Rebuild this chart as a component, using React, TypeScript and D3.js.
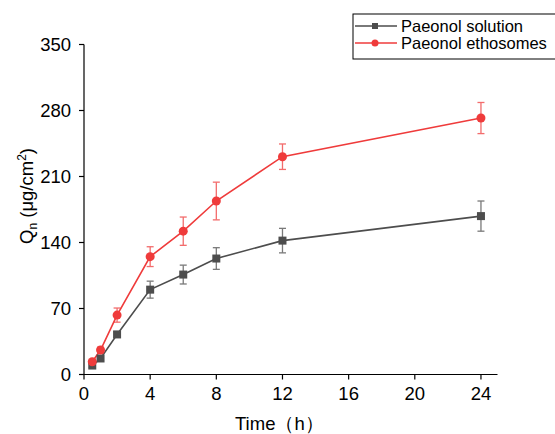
import React from "react";
import * as d3 from "d3";

const times = [0.5, 1, 2, 4, 6, 8, 12, 24];
const solutionValues = [9.5, 17, 42.5, 90, 106, 123, 142, 168];
const solutionErrors = [2, 2.5, 3, 9, 10, 11.5, 13, 16];
const ethosomeValues = [13.5, 26, 63, 125, 152, 184, 231, 272];
const ethosomeErrors = [2, 3, 7.5, 10.5, 15, 20, 13.5, 16.5];
const xTicks = [0, 4, 8, 12, 16, 20, 24];
const yTicks = [0, 70, 140, 210, 280, 350];

const GRAY = "#4d4d4d";
const RED = "#ef3b3b";
const FONT = "Liberation Sans, Arial, sans-serif";

export default function App() {
  const width = 555;
  const height = 434;
  const left = 84;
  const right = 497.5;
  const top = 44.5;
  const bottom = 374.5;

  const x = d3.scaleLinear().domain([0, 25]).range([left, right]);
  const y = d3.scaleLinear().domain([0, 350]).range([bottom, top]);

  const line = d3
    .line<number>()
    .x((_, i) => x(times[i]))
    .y(d => y(d));

  const errorBars = (vals: number[], errs: number[], color: string) =>
    vals.map((v, i) => {
      const cx = x(times[i]);
      return (
        <g key={i} stroke={color} strokeWidth={1.3} opacity={0.75}>
          <line x1={cx} x2={cx} y1={y(v + errs[i])} y2={y(v - errs[i])} />
          <line x1={cx - 3.5} x2={cx + 3.5} y1={y(v + errs[i])} y2={y(v + errs[i])} />
          <line x1={cx - 3.5} x2={cx + 3.5} y1={y(v - errs[i])} y2={y(v - errs[i])} />
        </g>
      );
    });

  return (
    <svg
      width={width}
      height={height}
      style={{ position: "absolute", left: 0, top: 0, background: "#fff" }}
      fontFamily={FONT}
    >
      {/* axes */}
      <line x1={left} x2={right} y1={bottom} y2={bottom} stroke="#000" strokeWidth={1.2} />
      <line x1={left} x2={left} y1={top} y2={bottom} stroke="#000" strokeWidth={1.2} />
      {xTicks.map(t => (
        <g key={t} transform={`translate(${x(t)},${bottom})`}>
          <line y2={5} stroke="#000" strokeWidth={1.2} />
          <text y={25} textAnchor="middle" fontSize={18.5}>
            {t}
          </text>
        </g>
      ))}
      {yTicks.map(t => (
        <g key={t} transform={`translate(${left},${y(t)})`}>
          <line x2={-5} stroke="#000" strokeWidth={1.2} />
          <text x={-13} y={6.5} textAnchor="end" fontSize={18.5}>
            {t}
          </text>
        </g>
      ))}
      <text x={235} y={430} fontSize={18.5}>
        Time（h）
      </text>
      <text transform={`translate(33,244) rotate(-90)`} fontSize={18.5}>
        Q<tspan fontSize={12} dy={4}>n</tspan>
        <tspan dy={-4}> (μg/cm</tspan>
        <tspan fontSize={12} dy={-7}>2</tspan>
        <tspan dy={7}>)</tspan>
      </text>

      {/* series */}
      {errorBars(solutionValues, solutionErrors, GRAY)}
      {errorBars(ethosomeValues, ethosomeErrors, RED)}
      <path d={line(solutionValues) ?? ""} fill="none" stroke={GRAY} strokeWidth={1.6} />
      <path d={line(ethosomeValues) ?? ""} fill="none" stroke={RED} strokeWidth={1.6} />
      {solutionValues.map((v, i) => (
        <rect key={i} x={x(times[i]) - 4} y={y(v) - 4} width={8} height={8} fill={GRAY} />
      ))}
      {ethosomeValues.map((v, i) => (
        <circle key={i} cx={x(times[i])} cy={y(v)} r={4.5} fill={RED} />
      ))}

      {/* legend */}
      <rect x={353} y={14} width={210} height={45} fill="#fff" stroke="#000" strokeWidth={1} />
      <line x1={355} x2={397} y1={26} y2={26} stroke={GRAY} strokeWidth={1.6} />
      <rect x={372} y={23} width={6} height={6} fill={GRAY} />
      <text x={401} y={31.5} fontSize={16.5}>Paeonol solution</text>
      <line x1={355} x2={397} y1={43} y2={43} stroke={RED} strokeWidth={1.6} />
      <circle cx={375} cy={43} r={3.5} fill={RED} />
      <text x={401} y={49} fontSize={16.5}>Paeonol ethosomes</text>
    </svg>
  );
}
